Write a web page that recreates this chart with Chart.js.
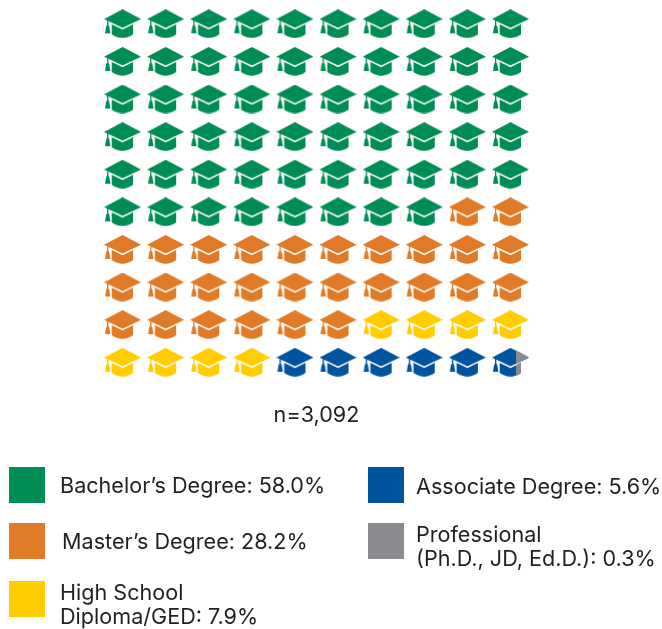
<!DOCTYPE html>
<html>
<head>
<meta charset="utf-8">
<script src="https://cdn.jsdelivr.net/npm/chart.js@4"></script>
<style>
  html, body { margin: 0; padding: 0; background: #fff; }
  #wrap { position: relative; width: 662px; height: 629px; overflow: hidden; }
  canvas { position: absolute; left: 0; top: 0; }
  .sw { position: absolute; width: 36px; height: 36px; }
  .lb { position: absolute; font: 21.6px/24px Inter, sans-serif; color: #231f20; white-space: nowrap; }
</style>
</head>
<body>
<div id="wrap">
  <canvas id="chart" width="662" height="629"></canvas>
</div>
<script>
const categories = ["Bachelor's Degree", "Master's Degree", 'High School Diploma/GED', 'Associate Degree', 'Professional (Ph.D., JD, Ed.D.)'];
const shares     = [58.0, 28.2, 7.9, 5.6, 0.3];
const colors     = ['#008c55', '#e07a27', '#ffcd00', '#00539f', '#8a8b8e'];
const sampleSize = '3,092';
const gridSize   = 10;

// legend text, line breaks as in the original
const legendLines = [
  ['Bachelor\u2019s Degree: 58.0%'],
  ['Master\u2019s Degree: 28.2%'],
  ['High School', 'Diploma/GED: 7.9%'],
  ['Associate Degree: 5.6%'],
  ['Professional', '(Ph.D., JD, Ed.D.): 0.3%']
];
const legendPos = [
  { sx: 9,   sy: 467, tx: 60,  ty: 473 },
  { sx: 9,   sy: 523, tx: 62,  ty: 529 },
  { sx: 9,   sy: 581, tx: 60,  ty: 580 },
  { sx: 368, sy: 467, tx: 416, ty: 474 },
  { sx: 368, sy: 523, tx: 416, ty: 522 }
];

function hatIcon(color, clipFrom) {
  const c = document.createElement('canvas');
  c.width = 37; c.height = 29;
  const g = c.getContext('2d');
  if (clipFrom) { g.beginPath(); g.rect(37 * clipFrom, 0, 37, 29); g.clip(); }
  g.fillStyle = color;
  // board
  g.beginPath();
  g.moveTo(18.5, 0); g.lineTo(37, 9.7); g.lineTo(18.5, 18.6); g.lineTo(0, 9.7);
  g.closePath(); g.fill();
  // cap body
  g.beginPath();
  g.moveTo(7.7, 15); g.lineTo(18.5, 20.3); g.lineTo(29, 15); g.lineTo(29, 25);
  g.quadraticCurveTo(18.5, 32.5, 7.7, 25);
  g.closePath(); g.fill();
  // tassel cord and tassel
  g.fillRect(3, 10, 1.3, 7);
  g.beginPath();
  g.moveTo(3.6, 15); g.lineTo(5.2, 17); g.lineTo(6.4, 24); g.lineTo(1, 24); g.lineTo(2.1, 17);
  g.closePath(); g.fill();
  return c;
}

// fill the grid row by row, a cell takes the category at its midpoint
const cells = categories.map(() => []);
for (let i = 0; i < gridSize * gridSize; i++) {
  let sum = 0, k = 0;
  for (k = 0; k < shares.length; k++) {
    sum += shares[k];
    if (i + 0.5 < sum) break;
  }
  cells[k].push({ x: i % gridSize, y: Math.floor(i / gridSize) });
}
// last category is too small for a whole hat, it only covers the tip of the last one
const last = shares.length - 1;
cells[last] = [{ x: gridSize - 1, y: gridSize - 1 }];

new Chart(document.getElementById('chart'), {
  type: 'scatter',
  data: {
    datasets: categories.map((name, k) => ({
      label: name,
      data: cells[k],
      order: last - k,
      pointStyle: hatIcon(colors[k], k === last ? 0.65 : 0),
      pointRadius: 18
    }))
  },
  options: {
    responsive: false,
    animation: false,
    layout: { autoPadding: false, padding: { left: 101, right: 130, top: 5, bottom: 201 } },
    plugins: { legend: { display: false }, tooltip: { enabled: false } },
    scales: {
      x: {
        min: -0.5, max: gridSize - 0.5,
        grid: { display: false }, border: { display: false }, ticks: { display: false },
        title: { display: true, text: 'n=' + sampleSize, color: '#231f20', padding: { top: 13, bottom: 0 },
          font: { family: 'Inter', size: 21.6, lineHeight: 1.2 } }
      },
      y: { display: false, reverse: true, min: -0.5, max: gridSize - 0.5 }
    }
  }
});

const wrap = document.getElementById('wrap');
legendPos.forEach((p, k) => {
  wrap.insertAdjacentHTML('beforeend',
    `<div class="sw" style="left:${p.sx}px;top:${p.sy}px;background:${colors[k]}"></div>` +
    `<div class="lb" style="left:${p.tx}px;top:${p.ty}px">${legendLines[k].join('<br>')}</div>`);
});
</script>
</body>
</html>
